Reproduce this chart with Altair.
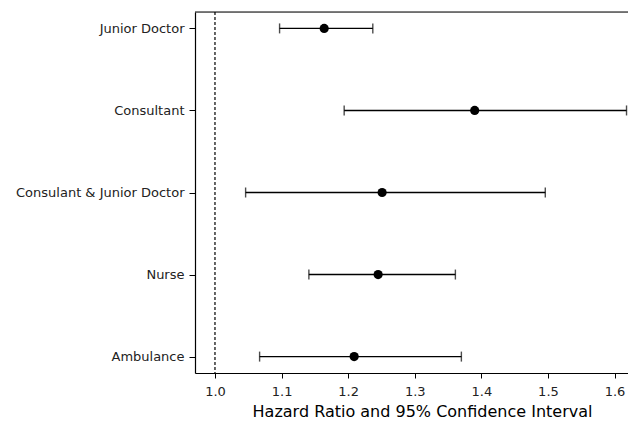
import altair as alt
import pandas as pd

groups = ["Junior Doctor", "Consultant", "Consulant & Junior Doctor", "Nurse", "Ambulance"]
hr = [1.164, 1.390, 1.251, 1.245, 1.209]
lower = [1.097, 1.194, 1.046, 1.141, 1.067]
upper = [1.237, 1.618, 1.496, 1.361, 1.370]
x_ticks = [1.0, 1.1, 1.2, 1.3, 1.4, 1.5, 1.6]
ref_value = 1.0

df = pd.DataFrame({"group": groups, "hr": hr, "lower": lower, "upper": upper})

FONT = "DejaVu Sans"
W, H = 433, 361

xscale = alt.Scale(domain=[0.970, 1.6202], nice=False, zero=False)
yscale = alt.Scale(type="point", domain=groups, padding=0.2)

xaxis = alt.Axis(values=x_ticks, format=".1f", grid=False, domainColor="black",
                 tickColor="black", tickSize=5, labelFont=FONT, labelFontSize=13,
                 labelColor="#222", labelPadding=7, title="Hazard Ratio and 95% Confidence Interval",
                 titleFont=FONT, titleFontSize=16, titleFontWeight="normal", titleColor="black",
                 titlePadding=5, titleX=227, domainWidth=1.2, tickWidth=1)
yaxis = alt.Axis(title=None, grid=False, domainColor="black", tickColor="black", tickSize=6,
                 labelFont=FONT, labelFontSize=13, labelColor="#222", labelPadding=5,
                 domainWidth=1.2, tickWidth=1)

base = alt.Chart(df)

ci = base.mark_rule(color="black", strokeWidth=1.4).encode(
    x=alt.X("lower:Q", scale=xscale, axis=xaxis),
    x2="upper:Q",
    y=alt.Y("group:N", scale=yscale, axis=yaxis, sort=groups),
)
cap_lo = base.mark_tick(color="black", thickness=1.4, size=10, orient="vertical").encode(
    x=alt.X("lower:Q", scale=xscale), y=alt.Y("group:N", scale=yscale, sort=groups)
)
cap_hi = base.mark_tick(color="black", thickness=1.4, size=10, orient="vertical").encode(
    x=alt.X("upper:Q", scale=xscale), y=alt.Y("group:N", scale=yscale, sort=groups)
)
pts = base.mark_circle(color="black", opacity=1, size=85).encode(
    x=alt.X("hr:Q", scale=xscale), y=alt.Y("group:N", scale=yscale, sort=groups)
)
ref = alt.Chart(pd.DataFrame({"v": [ref_value]})).mark_rule(
    color="black", strokeDash=[3, 2], strokeWidth=1.2
).encode(x=alt.X("v:Q", scale=xscale))

top = alt.Chart(pd.DataFrame({"v": [0]})).mark_rule(color="black", strokeWidth=1.2).encode(
    x=alt.value(0), x2=alt.value(W), y=alt.value(0)
)

chart = alt.layer(ref, ci, cap_lo, cap_hi, pts, top).properties(
    width=W, height=H,
    autosize=alt.AutoSizeParams(type="none"),
    padding={"left": 187, "top": 4, "right": 0, "bottom": 46},
).configure_view(stroke=None).configure(background="white")

chart.save("out.html", embed_options={"renderer": "svg", "actions": False})
